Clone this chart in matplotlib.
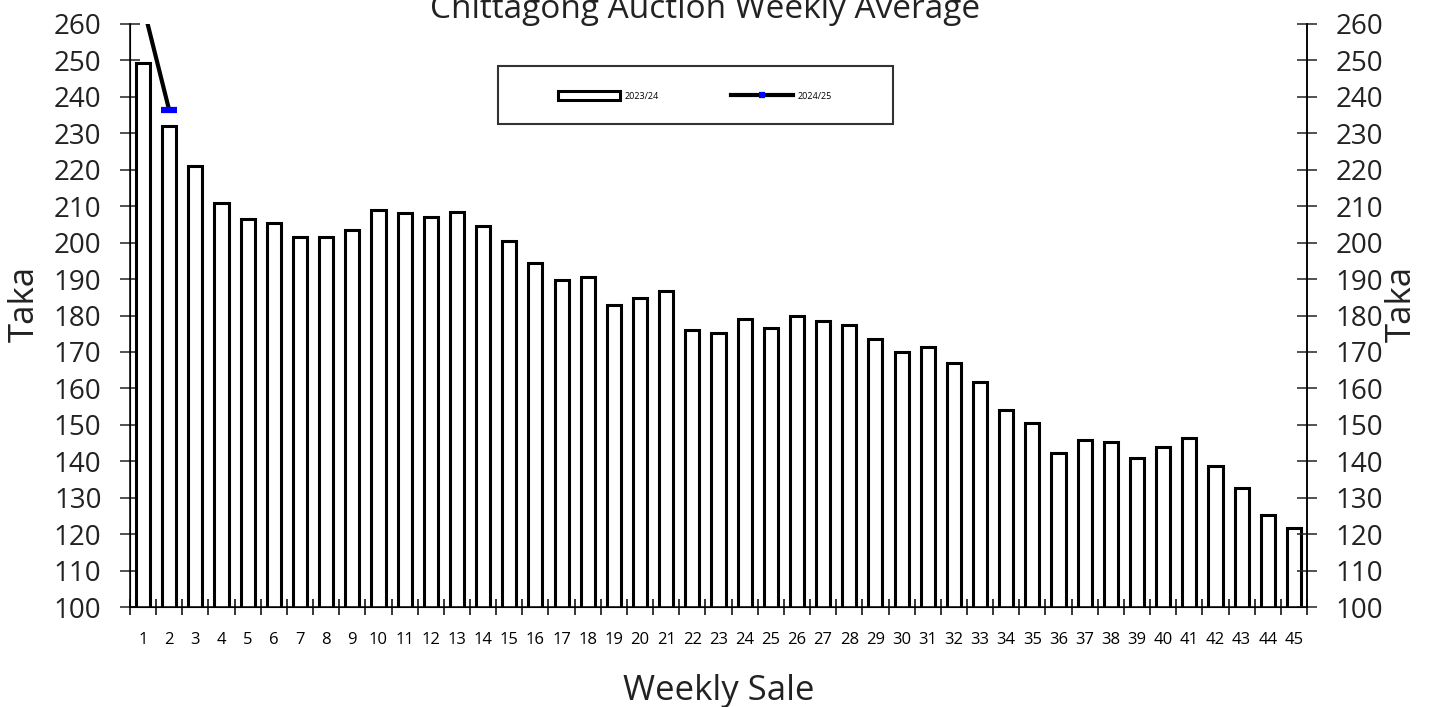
import numpy as np
import matplotlib
matplotlib.use("Agg")
import matplotlib.pyplot as plt
from matplotlib.patches import Rectangle

plt.rcParams['font.family'] = ['Open Sans', 'DejaVu Sans']

# weekly auction averages (Taka)
weeks = np.arange(1, 46)
avg_2023_24 = [249.3, 232, 221, 211, 206.5, 205.5, 201.5, 201.5, 203.5, 209,
               208, 207, 208.5, 204.5, 200.5, 194.5, 189.8, 190.5, 182.8, 184.7,
               186.7, 176, 175.3, 179, 176.5, 180, 178.5, 177.5, 173.5, 169.9,
               171.3, 166.9, 161.8, 154, 150.5, 142.4, 145.9, 145.3, 140.9, 144,
               146.5, 138.8, 132.7, 125.2, 121.6]
weeks_2024_25 = [1, 2]
avg_2024_25 = [265, 236.3]

fig = plt.figure(figsize=(14.37, 7.07), dpi=100)
ax = fig.add_axes([130 / 1437, 1 - 607 / 707, 1177 / 1437, 583 / 707])

bars = ax.bar(weeks, avg_2023_24, width=0.54, color='white', edgecolor='black',
              linewidth=2.2, label='2023/24', zorder=2)
line, = ax.plot(weeks_2024_25, avg_2024_25, color='black', linewidth=3,
                marker='_', markersize=12, markeredgewidth=4.5,
                markeredgecolor='#0000ff', label='2024/25', zorder=3)

ax.set_xlim(0.5, 45.5)
ax.set_ylim(100, 260)
yt = np.arange(100, 261, 10)
ax.set_yticks(yt)
ax.tick_params(axis='y', direction='inout', length=15, width=1.1,
               labelsize=20, pad=13, colors='#222222')
ax.set_xticks(np.arange(0.5, 46, 1))
ax.set_xticklabels([])
ax.set_xticks(weeks, minor=True)
ax.set_xticklabels([str(w) for w in weeks], minor=True, fontsize=12)
ax.tick_params(axis='x', which='major', direction='inout', length=11, width=1.1)
ax.tick_params(axis='x', which='minor', length=0, pad=18)

ax.spines['top'].set_visible(False)
for s in ['left', 'bottom', 'right']:
    ax.spines[s].set_linewidth(1.1)

ax2 = ax.twinx()
ax2.set_ylim(100, 260)
ax2.set_yticks(yt)
ax2.tick_params(axis='y', direction='inout', length=15, width=1.1,
                labelsize=20, pad=13, colors='#222222')
ax2.spines['top'].set_visible(False)
ax2.spines['right'].set_linewidth(1.1)

ax.set_ylabel('Taka', fontsize=25, color='#222222')
ax.yaxis.set_label_coords(-0.075, 0.52)
ax2.set_ylabel('Taka', fontsize=25, color='#222222', rotation=90)
ax2.yaxis.set_label_coords(1.066, 0.52)
ax.set_xlabel('Weekly Sale', fontsize=25, color='#222222')
ax.xaxis.set_label_coords(0.5, -0.115)

fig.text(705 / 1437, 1 - 18 / 707, 'Chittagong Auction Weekly Average',
         fontsize=24, ha='center', va='baseline', color='#222222')

# legend
fig.legend([bars, line], ['2023/24', '2024/25'], loc='center left',
           bbox_to_anchor=(558 / 1437, 1 - 96 / 707),
           bbox_transform=fig.transFigure, ncol=2, frameon=False,
           fontsize=6.5, handlelength=6.9, handleheight=1.0,
           handletextpad=0.45, columnspacing=8.0, borderpad=0,
           borderaxespad=0, markerscale=0.35)
fig.add_artist(Rectangle((498 / 1437, 1 - 124 / 707), 395 / 1437, 58 / 707,
                         transform=fig.transFigure, fill=False,
                         edgecolor='#333333', linewidth=1.5))

fig.savefig('out.png', dpi=100)
